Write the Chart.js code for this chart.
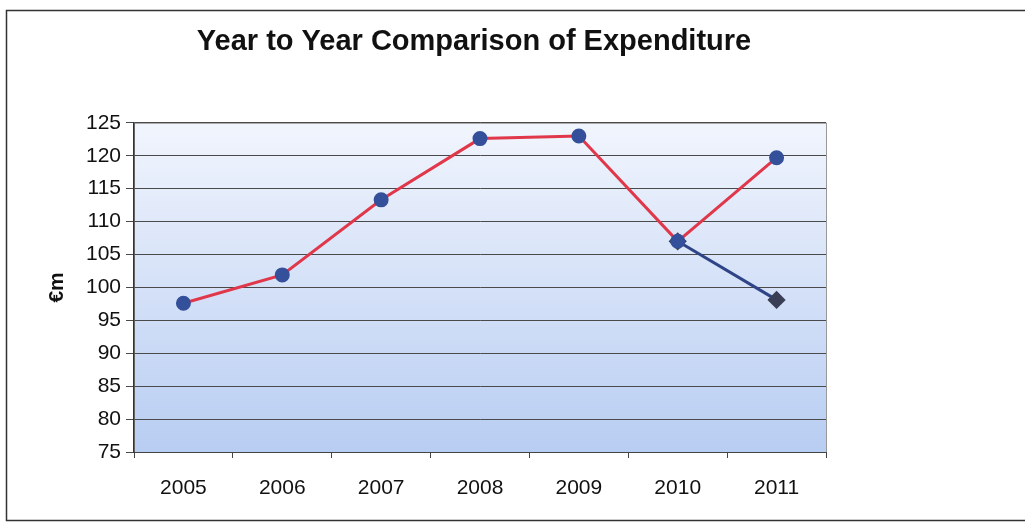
<!DOCTYPE html>
<html lang="en">
<head>
    <meta charset="UTF-8">
    <title>Year to Year Comparison of Expenditure</title>
    <script src="https://cdn.jsdelivr.net/npm/chart.js"></script>
    <style>
        body {
            margin: 0;
            padding: 0;
            background: rgb(255, 255, 255);
        }
        #wrap {
            width: 1025px;
            height: 527px;
        }
    </style>
</head>
<body>
    <div id="wrap">
        <canvas id="line-chart" width="1025" height="527"></canvas>
    </div>

    <script>
        // chart data
        const years = ["2005", "2006", "2007", "2008", "2009", "2010", "2011"];
        const actualSpend = [97.6, 101.9, 113.3, 122.6, 123.0, 107.0, 119.7];
        const projectedSpend = [null, null, null, null, null, 107.0, 98.1];
        const yTicks = [75, 80, 85, 90, 95, 100, 105, 110, 115, 120, 125];

        // blue gradient behind the plot and frame round the figure
        const backdrop = {
            id: "backdrop",
            beforeDraw(chart) {
                const { ctx, chartArea: a } = chart;
                ctx.save();
                ctx.strokeStyle = "#333";
                ctx.lineWidth = 1.5;
                ctx.strokeRect(6.5, 10.5, 1030, 510);
                const g = ctx.createLinearGradient(0, a.top, 0, a.bottom);
                g.addColorStop(0, "#f1f5fd");
                g.addColorStop(1, "#b8cdf2");
                ctx.fillStyle = g;
                ctx.fillRect(a.left, a.top, a.right - a.left, a.bottom - a.top);
                ctx.strokeStyle = "#999";
                ctx.lineWidth = 1;
                ctx.strokeRect(a.left + 0.5, a.top + 0.5, a.right - a.left, a.bottom - a.top);
                ctx.restore();
            }
        };

        const ctx = document.getElementById("line-chart").getContext("2d");
        new Chart(ctx, {
            type: "line",
            data: {
                labels: years,
                datasets: [
                    {
                        label: "Actual",
                        data: actualSpend,
                        borderColor: "#e0384a",
                        borderWidth: 3,
                        pointStyle: "circle",
                        pointRadius: 6,
                        pointBackgroundColor: "#34509a",
                        pointBorderColor: "#34509a",
                        tension: 0,
                        order: 1
                    },
                    {
                        label: "Projected",
                        data: projectedSpend,
                        borderColor: "#2f4486",
                        borderWidth: 3,
                        pointStyle: "rectRot",
                        pointRadius: 7,
                        pointBackgroundColor: "#3a3f55",
                        pointBorderColor: "#3a3f55",
                        tension: 0,
                        order: 2
                    }
                ]
            },
            options: {
                responsive: false,
                animation: false,
                layout: { padding: { left: 45, right: 122, top: 0, bottom: 0 } },
                plugins: {
                    legend: { display: false },
                    tooltip: { enabled: false },
                    title: {
                        display: true,
                        text: "Year to Year Comparison of Expenditure",
                        color: "#111",
                        font: { family: "Liberation Sans", size: 29, weight: "bold" },
                        lineHeight: 1.2,
                        padding: { top: 25, bottom: 63 }
                    }
                },
                scales: {
                    x: {
                        offset: true,
                        grid: {
                            offset: true,
                            drawOnChartArea: false,
                            drawTicks: true,
                            tickLength: 6,
                            color: "#444"
                        },
                        border: { color: "#444" },
                        ticks: {
                            color: "#111",
                            padding: 18,
                            font: { family: "Liberation Sans", size: 21 }
                        },
                        afterFit(scale) { scale.height = 75; }
                    },
                    y: {
                        min: 75,
                        max: 125,
                        afterBuildTicks(scale) {
                            scale.ticks = yTicks.map(v => ({ value: v }));
                        },
                        grid: {
                            color: "#4a4a4a",
                            lineWidth: 1,
                            tickLength: 8
                        },
                        border: { color: "#333", width: 1.5 },
                        ticks: {
                            color: "#111",
                            padding: 5,
                            font: { family: "Liberation Sans", size: 21 }
                        },
                        title: {
                            display: true,
                            text: "€m",
                            color: "#111",
                            font: { family: "Liberation Sans", size: 21, weight: "bold" },
                            padding: { top: 0, bottom: 0 }
                        },
                        afterFit(scale) { scale.width = 89; }
                    },
                    // empty axis that keeps the white margin right of the plot
                    yRight: {
                        position: "right",
                        display: true,
                        grid: { display: false },
                        border: { display: false },
                        ticks: { display: false },
                        afterFit(scale) { scale.width = 77; }
                    }
                }
            },
            plugins: [backdrop]
        });
    </script>
</body>
</html>
